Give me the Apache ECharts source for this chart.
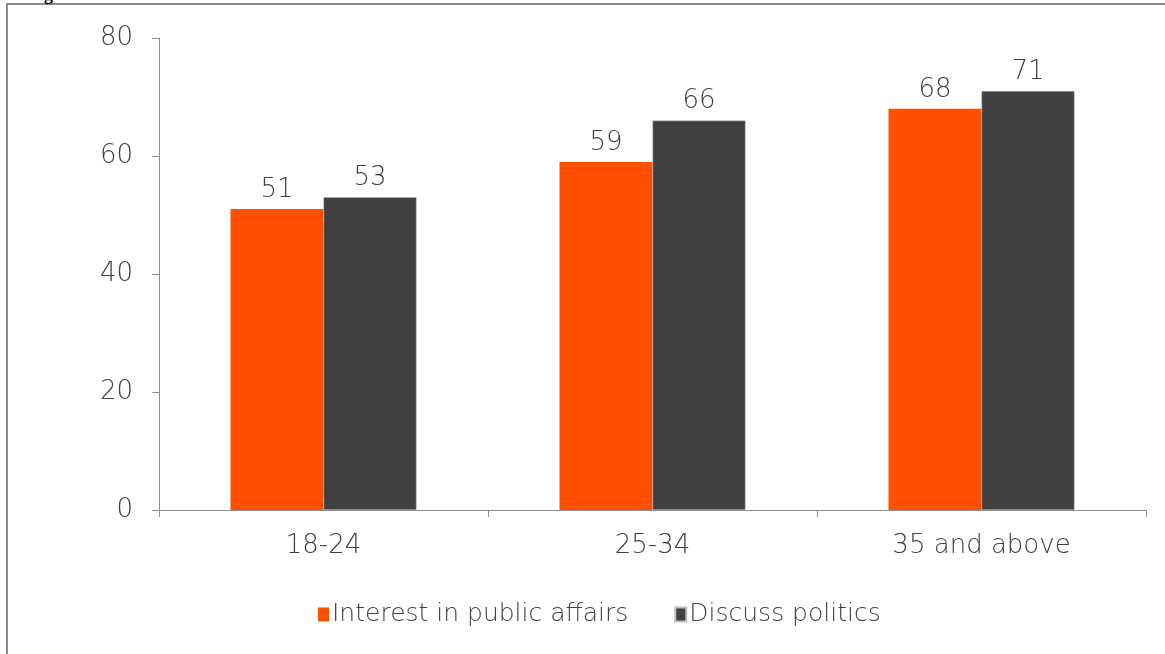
<!DOCTYPE html>
<html><head><meta charset="utf-8">
<script src="https://cdn.jsdelivr.net/npm/echarts@6/dist/echarts.min.js"></script>
<style>html,body{margin:0;padding:0;background:#fff}#c{width:1165px;height:654px}</style>
</head><body><div id="c"></div>
<script>
const categories = ['18-24', '25-34', '35 and above'];
const interestValues = [51, 59, 68];
const discussValues = [53, 66, 71];
const seriesNames = ['Interest in public affairs', 'Discuss politics'];
const yTicks = {min: 0, max: 80, interval: 20};

const FONT = '"DejaVu Sans", sans-serif';
const FW = 200;
const TXT = '#404040';
const chart = echarts.init(document.getElementById('c'), null, {renderer: 'canvas'});
chart.setOption({
  animation: false,
  backgroundColor: '#fff',
  graphic: [
    {type: 'rect', shape: {x: 7, y: 4, width: 1170, height: 700}, style: {fill: 'none', stroke: '#8a8a8a', lineWidth: 2}, silent: true},
    {type: 'text', left: 28, top: -14, style: {text: 'Figure', font: 'bold 18px "Liberation Serif", serif', fill: '#000'}}
  ],
  grid: {left: 159, right: 19, top: 38, bottom: 144, containLabel: false},
  legend: {
    data: seriesNames,
    bottom: 22,
    left: 313,
    itemWidth: 11, itemHeight: 14, itemGap: 46,
    icon: 'rect',
    textStyle: {fontFamily: FONT, fontWeight: FW, fontSize: 25, color: TXT, padding: [0, 0, 0, -2]}
  },
  xAxis: {
    type: 'category',
    data: categories,
    axisLine: {lineStyle: {color: '#8c8c8c', width: 1}},
    axisTick: {show: true, length: 7, lineStyle: {color: '#8c8c8c'}},
    axisLabel: {fontFamily: FONT, fontWeight: FW, fontSize: 26, color: TXT, margin: 23}
  },
  yAxis: {
    type: 'value',
    min: yTicks.min, max: yTicks.max, interval: yTicks.interval,
    axisLine: {show: true, lineStyle: {color: '#8c8c8c', width: 1}},
    axisTick: {show: true, length: 7, lineStyle: {color: '#8c8c8c'}},
    splitLine: {show: false},
    axisLabel: {fontFamily: FONT, fontWeight: FW, fontSize: 26, color: TXT, margin: 26}
  },
  series: [
    {
      name: seriesNames[0], type: 'bar', data: interestValues,
      barWidth: 93, barGap: '0%',
      itemStyle: {color: '#FF5000'},
      label: {show: true, position: 'top', distance: 6, fontFamily: FONT, fontWeight: FW, fontSize: 26, color: TXT}
    },
    {
      name: seriesNames[1], type: 'bar', data: discussValues,
      barWidth: 93,
      itemStyle: {color: '#404040', borderColor: '#bdbdbd', borderWidth: 0.5},
      label: {show: true, position: 'top', distance: 6, fontFamily: FONT, fontWeight: FW, fontSize: 26, color: TXT}
    }
  ]
});
</script></body></html>
